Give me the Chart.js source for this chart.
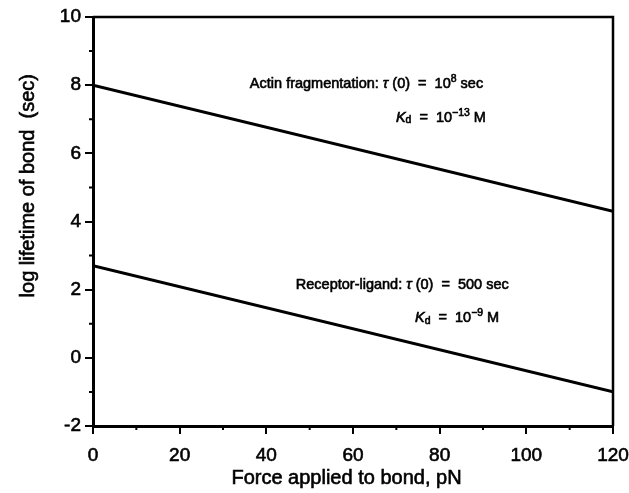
<!DOCTYPE html>
<html><head><meta charset="utf-8">
<script src="https://cdn.jsdelivr.net/npm/chart.js@4.4.1/dist/chart.umd.min.js"></script>
<style>html,body{margin:0;padding:0;background:#fff}#wrap{width:629px;height:493px;position:relative}</style>
</head><body><div id="wrap"><canvas id="c"></canvas></div>
<script>
// ---- data ----
const forceValues = [0, 120];
const actinLogLifetime = [8.0, 4.3];
const receptorLogLifetime = [2.7, -1.0];
const xTickValues = [0, 20, 40, 60, 80, 100, 120];
const yTickValues = [-2, 0, 2, 4, 6, 8, 10];
const xMinorTicks = [10, 30, 50, 70, 90, 110];
const yMinorTicks = [-1, 1, 3, 5, 7, 9];
const xTitle = 'Force applied to bond, pN';
const yTitle = 'log lifetime of bond  (sec)';
const actinLabel = [{t:'Actin fragmentation: '},{t:'τ',it:true},{t:' (0)  =  10'},{t:'8',sup:true},{t:' sec'}];
const actinKd = [{t:'K',it:true},{t:'d',sub:true},{t:'  =  10'},{t:'−13',sup:true},{t:' M'}];
const receptorLabel = [{t:'Receptor-ligand: '},{t:'τ',it:true},{t:' (0)  =  500 sec'}];
const receptorKd = [{t:'K',it:true},{t:'d',sub:true},{t:'  =  10'},{t:'−9',sup:true},{t:' M'}];

// ---- placement (data coords of text start / baseline) ----
const notePlacement = [
  {segs: actinLabel, x: 36.2, y: 7.92},
  {segs: actinKd, x: 69.9, y: 6.93},
  {segs: receptorLabel, x: 46.8, y: 2.01},
  {segs: receptorKd, x: 74.3, y: 1.04}
];

const FONT = '"Liberation Sans", Arial, Helvetica, sans-serif';
const STROKE = 0.6;

function drawRich(ctx, x, y, segs, size) {
  ctx.save();
  ctx.fillStyle = '#000';
  ctx.strokeStyle = '#000';
  ctx.lineWidth = STROKE;
  ctx.textBaseline = 'alphabetic';
  ctx.textAlign = 'left';
  let cx = x;
  for (const s of segs) {
    let fs = size, dy = 0, style = '';
    if (s.sup) { fs = size * 0.72; dy = -size * 0.42; }
    if (s.sub) { fs = size * 0.72; dy = size * 0.12; }
    if (s.it) style = 'italic ';
    ctx.font = style + fs + 'px ' + FONT;
    ctx.fillText(s.t, cx, y + dy);
    ctx.strokeText(s.t, cx, y + dy);
    cx += ctx.measureText(s.t).width;
  }
  ctx.restore();
}

const extras = {
  id: 'extras',
  afterDraw(chart) {
    const {ctx, chartArea: a, scales: {x, y}} = chart;
    ctx.save();
    ctx.strokeStyle = '#000';
    // frame top & right
    ctx.lineWidth = 2.5;
    ctx.beginPath();
    ctx.moveTo(a.left, a.top); ctx.lineTo(a.right, a.top); ctx.lineTo(a.right, a.bottom);
    ctx.stroke();
    // minor ticks
    ctx.lineWidth = 2;
    ctx.beginPath();
    for (const v of yMinorTicks) { const p = y.getPixelForValue(v); ctx.moveTo(a.left - 4, p); ctx.lineTo(a.left, p); }
    for (const v of xMinorTicks) { const p = x.getPixelForValue(v); ctx.moveTo(p, a.bottom); ctx.lineTo(p, a.bottom + 4); }
    ctx.stroke();
    ctx.fillStyle = '#000';
    ctx.lineWidth = STROKE;
    ctx.font = '20px ' + FONT;
    ctx.textAlign = 'center';
    // x axis title
    ctx.textBaseline = 'alphabetic';
    const xc = x.getPixelForValue(58.5);
    ctx.fillText(xTitle, xc, 484);
    ctx.strokeText(xTitle, xc, 484);
    // y axis title
    ctx.translate(28, y.getPixelForValue(5.05));
    ctx.rotate(-Math.PI / 2);
    ctx.textBaseline = 'middle';
    ctx.fillText(yTitle, 0, 0);
    ctx.strokeText(yTitle, 0, 0);
    ctx.restore();
    for (const n of notePlacement) drawRich(ctx, x.getPixelForValue(n.x), y.getPixelForValue(n.y), n.segs, 14.5);
  }
};

new Chart(document.getElementById('c'), {
  type: 'line',
  data: {
    datasets: [
      {label: 'Actin fragmentation', data: forceValues.map((f, i) => ({x: f, y: actinLogLifetime[i]})), borderColor: '#000', borderWidth: 3, pointRadius: 0, tension: 0},
      {label: 'Receptor-ligand', data: forceValues.map((f, i) => ({x: f, y: receptorLogLifetime[i]})), borderColor: '#000', borderWidth: 3, pointRadius: 0, tension: 0}
    ]
  },
  options: {
    responsive: true, maintainAspectRatio: false, animation: false,
    layout: {padding: {top: 17, right: 16, left: 0, bottom: 0}},
    plugins: {legend: {display: false}, tooltip: {enabled: false}},
    scales: {
      x: {
        type: 'linear', min: 0, max: 120,
        afterBuildTicks: s => { s.ticks = xTickValues.map(v => ({value: v})); },
        afterFit: s => { s.height = 67; s.paddingLeft = 0; s.paddingRight = 0; },
        grid: {drawOnChartArea: false, color: '#000', tickLength: 8, lineWidth: 2},
        border: {display: true, color: '#000', width: 3},
        ticks: {color: '#000', font: {family: FONT, size: 19}, padding: 10, maxRotation: 0, textStrokeColor: '#000', textStrokeWidth: STROKE},
        title: {display: false, text: xTitle}
      },
      y: {
        type: 'linear', min: -2, max: 10,
        afterBuildTicks: s => { s.ticks = yTickValues.map(v => ({value: v})); },
        afterFit: s => { s.width = 93; s.paddingTop = 0; s.paddingBottom = 0; },
        grid: {drawOnChartArea: false, color: '#000', tickLength: 8, lineWidth: 2},
        border: {display: true, color: '#000', width: 3},
        ticks: {color: '#000', font: {family: FONT, size: 19}, padding: 4, textStrokeColor: '#000', textStrokeWidth: STROKE},
        title: {display: false, text: yTitle}
      }
    }
  },
  plugins: [extras]
});
</script></body></html>
